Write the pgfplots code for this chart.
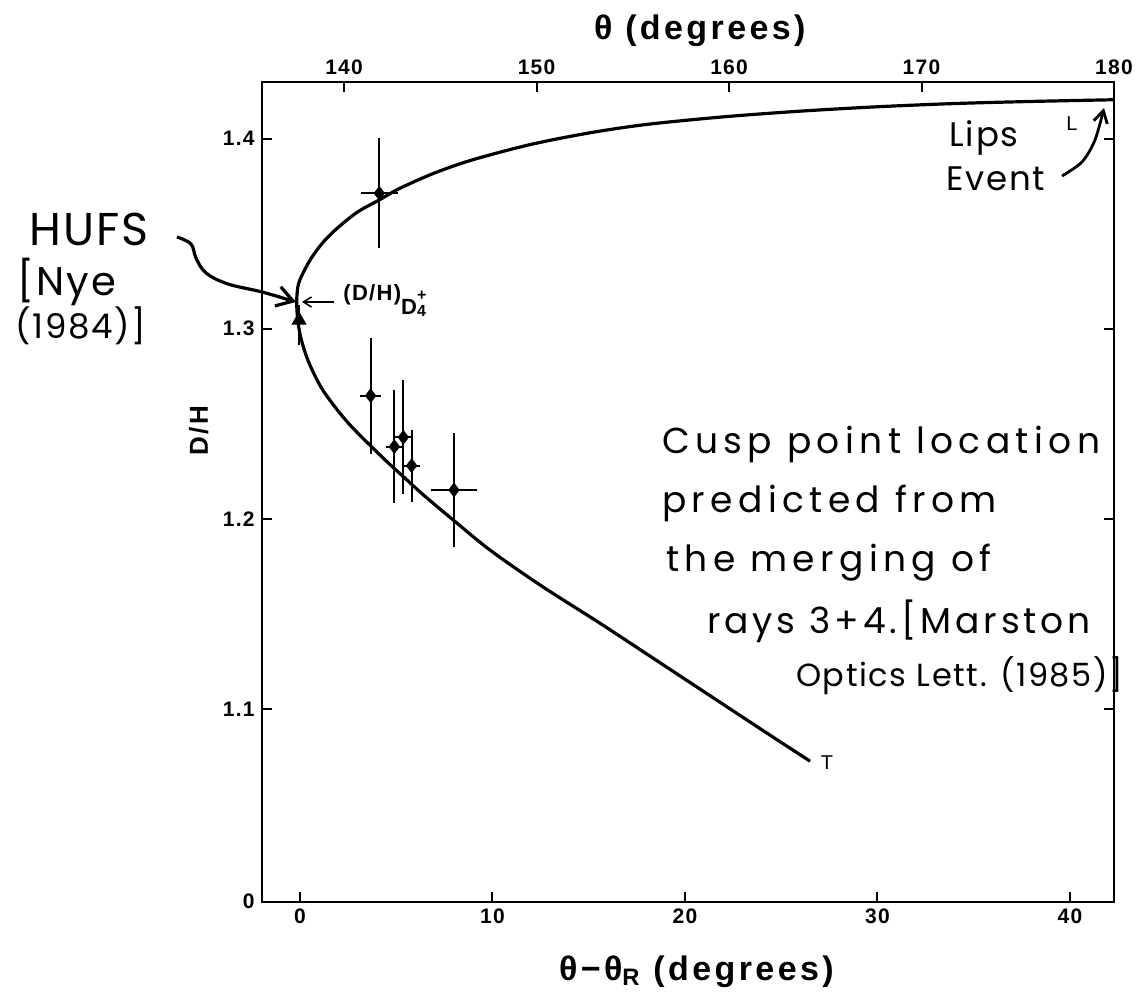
\documentclass[border=0pt]{standalone}
\usepackage{fontspec}
\setmainfont{Liberation Sans}
\newfontfamily\plotfont[LetterSpace=6]{Liberation Sans}
\newfontfamily\labfont[LetterSpace=10]{Liberation Sans}
\newfontfamily\hand[LetterSpace=15]{Poppins}
\newfontfamily\handc[LetterSpace=11]{Poppins}
\newfontfamily\handb[LetterSpace=5]{Poppins}
\usepackage{pgfplots}
\pgfplotsset{compat=1.18}
\usetikzlibrary{arrows.meta}
\begin{document}
\begin{tikzpicture}
\path[use as bounding box] (-130.85pt,-51.15pt) rectangle (443.15pt,450.85pt);
\begin{axis}[
  at={(0pt,0pt)}, anchor=south west, scale only axis,
  width=426.15pt, height=410pt,
  xmin=-1.99, xmax=42.29, ymin=0.9986, ymax=1.430,
  xtick={0,10,20,30,40}, xtick pos=bottom,
  ytick={0.9986,1.1,1.2,1.3,1.4}, yticklabels={0,1.1,1.2,1.3,1.4},
  ytick pos=both, yticklabel pos=left,
  tick align=inside, major tick length=5pt,
  axis line style={line width=1pt},
  every tick/.style={black, line width=1pt},
  /pgf/number format/assume math mode=true,
  tick label style={font=\plotfont\bfseries\fontsize{10.5}{12}\selectfont},
  xlabel={θ−θ\textsubscript{R} (degrees)},
  xlabel style={font=\labfont\bfseries\fontsize{17}{19}\selectfont, at={(axis description cs:0.51,-0.0857)}, anchor=center},
  ylabel={D/H},
  ylabel style={font=\labfont\bfseries\fontsize{13}{15}\selectfont, at={(axis description cs:-0.074,0.574)}, anchor=center},
  clip=false,
]
% theoretical curve (lower end -> cusp -> upper end)
\addplot[black, line width=1.6pt, smooth, tension=0.5] coordinates {
(26.5,1.0725) (24.0,1.089) (21.0,1.109) (18.3,1.127) (15.6,1.145) (12.5,1.165)
(9.87,1.1836) (7.96,1.1994) (6.41,1.2126) (5.37,1.2222) (4.33,1.2319) (2.5,1.2505)
(1.2,1.2675) (0.45,1.2825) (0.05,1.2950) (-0.12,1.305) (-0.17,1.3151)
(-0.05,1.3245) (0.52,1.3361) (1.2,1.3455) (2.0,1.3535) (3.0,1.3615) (4.12,1.3678)
(5.19,1.3739) (7,1.382) (9,1.389) (12,1.397) (15,1.403) (18,1.4075) (22,1.4115)
(26,1.4145) (30,1.4168) (34,1.4185) (38,1.4196) (42.29,1.4205)
};
% measured cusp points
\addplot[black, only marks, mark=diamond*, mark size=3.4pt,
  error bars/.cd, x dir=both, x explicit, y dir=both, y explicit,
  error mark=none, error bar style={line width=1pt}] coordinates {
(4.12,1.3713) +- (0.95,0.029)
(3.67,1.2648) +- (0.56,0.0306)
(4.90,1.2380) +- (0.44,0.0296)
(5.37,1.2429) +- (0.48,0.030)
(5.80,1.2280) +- (0.41,0.019)
(8.00,1.2152) +- (1.17,0.030)
};
% HUFS point
\addplot[black, only marks, mark=triangle*, mark size=4pt,
  error bars/.cd, y dir=both, y explicit,
  error mark=none, error bar style={line width=1pt}] coordinates {
(-0.05,1.3045) += (0,0.008) -= (0,0.013)
};
\end{axis}
\begin{axis}[
  at={(0pt,0pt)}, anchor=south west, scale only axis,
  width=426.15pt, height=410pt,
  xmin=135.72, xmax=180, ymin=0, ymax=1,
  axis x line*=top, hide y axis,
  xtick={140,150,160,170,180},
  tick align=inside, major tick length=5pt,
  axis line style={line width=1pt},
  every tick/.style={black, line width=1pt},
  /pgf/number format/assume math mode=true,
  tick label style={font=\plotfont\bfseries\fontsize{10.5}{12}\selectfont},
  xlabel={θ (degrees)},
  xlabel style={font=\labfont\bfseries\fontsize{17}{19}\selectfont, at={(axis description cs:0.514,1.062)}, anchor=center},
]
\addplot[draw=none] coordinates {(150,0.5)};
\end{axis}
\begin{scope}[shift={(-130.85pt,450.85pt)}, x=0.5pt, y=-0.5pt]
% (D/H) label
\draw[line width=0.8pt, -{Straight Barb[length=4pt,width=5pt]}] (334,302) -- (302,302);
\node[anchor=west, inner sep=0pt, font=\plotfont\bfseries\fontsize{11}{13}\selectfont] at (343,301)
  {(D/H)\raisebox{-7pt}{D\rlap{\raisebox{7pt}{\fontsize{8}{8}\selectfont +}}\raisebox{-1pt}{\fontsize{8}{8}\selectfont 4}}};
% HUFS
\node[font=\handb\fontsize{23}{25}\selectfont] at (89,229) {HUFS};
\node[font=\handb\fontsize{20}{22}\selectfont] at (67,282) {[Nye};
\node[font=\handb\fontsize{17}{19}\selectfont] at (81,326) {(1984)]};
\draw[line width=1.6pt, -{Straight Barb[length=8pt,width=10pt]}] plot[smooth, tension=0.6]
  coordinates {(177,237) (191,244) (196,258) (206,273) (228,284) (262,292) (296,302)};
% Lips event
\node[font=\handb\fontsize{17}{19}\selectfont] at (984,138) {Lips};
\node[font=\handb\fontsize{17}{19}\selectfont] at (996,179) {Event};
\node[font=\fontsize{10}{12}\selectfont] at (1072,124) {L};
\draw[line width=1.4pt, -{Straight Barb[length=6pt,width=7pt]}] plot[smooth]
  coordinates {(1062,176) (1082,162) (1095,140) (1104,108)};
% T
\node[font=\fontsize{10}{12}\selectfont] at (827,763) {T};
% cusp text
\node[anchor=west, font=\hand\fontsize{18}{20}\selectfont] at (655,445) {Cusp point location};
\node[anchor=west, font=\hand\fontsize{18}{20}\selectfont] at (655,503) {predicted from};
\node[anchor=west, font=\hand\fontsize{18}{20}\selectfont] at (659,563) {the merging of};
\node[anchor=west, font=\handc\fontsize{18}{20}\selectfont] at (700,621) {rays 3+4.[Marston};
\node[anchor=west, font=\handb\fontsize{16}{18}\selectfont] at (789,676) {Optics Lett. (1985)]};
\end{scope}
\end{tikzpicture}
\end{document}
